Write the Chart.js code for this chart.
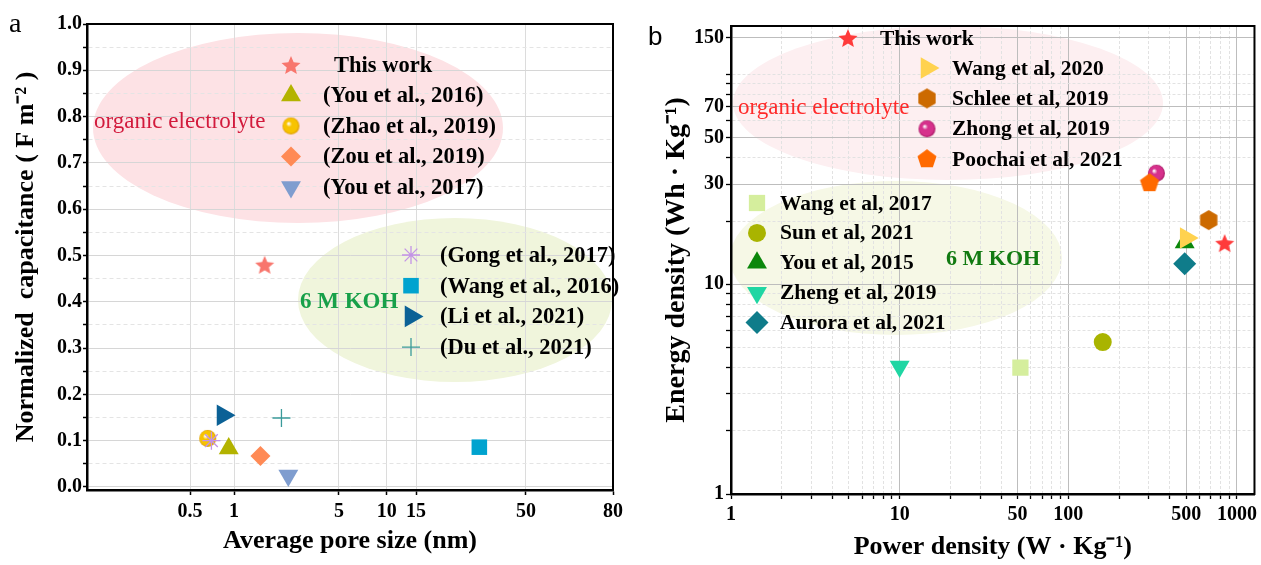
<!DOCTYPE html>
<html>
<head>
<meta charset="utf-8">
<script src="https://cdn.jsdelivr.net/npm/chart.js@4.4.1/dist/chart.umd.min.js"></script>
<style>
  html, body { margin: 0; padding: 0; background: #fff; }
  #wrapA { position: absolute; left: 0; top: 0; width: 630px; height: 565px; }
  #wrapB { position: absolute; left: 630px; top: 0; width: 631px; height: 565px; }
</style>
</head>
<body>
<div id="wrapA"><canvas id="chartA" width="630" height="565"></canvas></div>
<div id="wrapB"><canvas id="chartB" width="631" height="565"></canvas></div>
<script>
// ---- panel a: normalized capacitance vs average pore size ----
const studiesA = ['This work', '(You et al., 2016)', '(Zhao et al., 2019)', '(Zou et al., 2019)',
  '(You et al., 2017)', '(Gong et al., 2017)', '(Wang et al., 2016)', '(Li et al., 2021)', '(Du et al., 2021)'];
const poreSizeA = [1.6, 0.92, 0.66, 1.5, 2.3, 0.7, 30, 0.84, 2.07];
const capacitanceA = [0.48, 0.083, 0.105, 0.067, 0.025, 0.1, 0.086, 0.155, 0.149];
const xTicksA = [0.5, 1, 5, 10, 15, 50, 80];
const yTicksA = [0, 0.1, 0.2, 0.3, 0.4, 0.5, 0.6, 0.7, 0.8, 0.9, 1.0];

// ---- panel b: Ragone plot ----
const studiesB = ['This work', 'Wang et al, 2020', 'Schlee et al, 2019', 'Zhong et al, 2019', 'Poochai et al, 2021',
  'Wang et al, 2017', 'Sun et al, 2021', 'You et al, 2015', 'Zheng et al, 2019', 'Aurora et al, 2021'];
const powerB = [845, 500, 680, 333, 303, 52, 160, 490, 10, 490];
const energyB = [15.7, 16.6, 20.2, 33.8, 30.3, 4.0, 5.3, 15.8, 4.05, 12.5];
const xTicksB = [1, 10, 50, 100, 500, 1000];
const yTicksB = [1, 10, 30, 50, 70, 150];

const SERIF = '"Liberation Serif", "Times New Roman", serif';

// marker images for shapes chart.js has no built-in for
function makeCanvas(size, paint) {
  const c = document.createElement('canvas');
  c.width = size; c.height = size;
  paint(c.getContext('2d'), size / 2);
  return c;
}
function starImg(color, r) {
  return makeCanvas(Math.ceil(2 * r) + 2, (g, c) => {
    g.fillStyle = color;
    g.beginPath();
    for (let i = 0; i < 10; i++) {
      const rr = i % 2 ? r * 0.45 : r;
      const a = -Math.PI / 2 + i * Math.PI / 5;
      g.lineTo(c + rr * Math.cos(a), c + 1 + rr * Math.sin(a));
    }
    g.closePath();
    g.fill();
  });
}
function polygonImg(color, r, n) {
  return makeCanvas(Math.ceil(2 * r) + 2, (g, c) => {
    g.fillStyle = color;
    g.beginPath();
    for (let i = 0; i < n; i++) {
      const a = -Math.PI / 2 + i * 2 * Math.PI / n;
      g.lineTo(c + r * Math.cos(a), c + r * Math.sin(a));
    }
    g.closePath();
    g.fill();
  });
}
function sphereImg(color, edge, r) {
  return makeCanvas(Math.ceil(2 * r) + 2, (g, c) => {
    const grad = g.createRadialGradient(c - r * 0.3, c - r * 0.3, r * 0.05, c, c, r);
    grad.addColorStop(0, '#ffffff');
    grad.addColorStop(0.3, color);
    grad.addColorStop(0.8, color);
    grad.addColorStop(1, edge);
    g.fillStyle = grad;
    g.beginPath();
    g.arc(c, c, r, 0, Math.PI * 2);
    g.fill();
  });
}

const stylesA = [
  { style: starImg('#f8766d', 10), color: '#f8766d', radius: 10 },
  { style: 'triangle', color: '#b3b300', radius: 11.5 },
  { style: sphereImg('#f7c300', '#d99800', 8.5), color: '#f7c300', radius: 8.5 },
  { style: 'rectRot', color: '#ff8a55', radius: 10 },
  { style: 'triangle', rot: 180, color: '#7f9dcf', radius: 11.5 },
  { style: 'star', color: '#c393e6', radius: 9, line: 1.3, order: -1 },
  { style: 'rect', color: '#00a3cf', radius: 11 },
  { style: 'triangle', rot: 90, color: '#0b6196', radius: 12.5 },
  { style: 'cross', color: '#3a9a9a', radius: 9, line: 1.3 }
];
const stylesB = [
  { style: starImg('#ff3b3b', 10), color: '#ff3b3b', radius: 10 },
  { style: 'triangle', rot: 90, color: '#ffd24f', radius: 12.5 },
  { style: polygonImg('#cc6a00', 10, 6), color: '#cc6a00', radius: 10 },
  { style: sphereImg('#d6318c', '#a3145f', 8.5), color: '#d6318c', radius: 8.5 },
  { style: polygonImg('#ff6a00', 10, 5), color: '#ff6a00', radius: 10, order: -1 },
  { style: 'rect', color: '#d5ee9d', radius: 11.5 },
  { style: 'circle', color: '#a9b400', radius: 9 },
  { style: 'triangle', color: '#0b870b', radius: 11.5 },
  { style: 'triangle', rot: 180, color: '#1fd6a3', radius: 11.5 },
  { style: 'rectRot', color: '#0f7c8a', radius: 11.5 }
];

function makeDatasets(labels, xs, ys, styles) {
  return labels.map((label, i) => {
    const s = styles[i];
    return {
      label,
      data: [{ x: xs[i], y: ys[i] }],
      pointStyle: s.style,
      pointRadius: s.radius,
      pointRotation: s.rot || 0,
      pointBackgroundColor: s.color,
      pointBorderColor: s.color,
      pointBorderWidth: s.line || 0,
      order: s.order || 0
    };
  });
}

// the pore-size axis of panel a is log-like but stretched differently per segment
const poreKnots = [0.1, 0.5, 1, 5, 10, 15, 50, 80];
const poreKnotPos = [0, 0.196, 0.2795, 0.479, 0.570, 0.6255, 0.8346, 1];
class PoreScale extends Chart.LogarithmicScale {
  getPixelForValue(value) {
    if (value === null || value === undefined || isNaN(value)) return NaN;
    let i = 0;
    while (i < poreKnots.length - 2 && value > poreKnots[i + 1]) i++;
    const a = Math.log10(poreKnots[i]), b = Math.log10(poreKnots[i + 1]);
    const f = poreKnotPos[i] + (Math.log10(value) - a) / (b - a) * (poreKnotPos[i + 1] - poreKnotPos[i]);
    return this.getPixelForDecimal(f);
  }
  getValueForPixel(pixel) {
    const f = this.getDecimalForPixel(pixel);
    let i = 0;
    while (i < poreKnotPos.length - 2 && f > poreKnotPos[i + 1]) i++;
    const a = Math.log10(poreKnots[i]), b = Math.log10(poreKnots[i + 1]);
    return Math.pow(10, a + (f - poreKnotPos[i]) / (poreKnotPos[i + 1] - poreKnotPos[i]) * (b - a));
  }
}
PoreScale.id = 'poreLog';
Chart.register(PoreScale);

const near = (arr, v) => arr.some(t => Math.abs(t - v) < 1e-9);

// minor grid values
const yGridA = [];
yTicksA.forEach((v, i) => { yGridA.push(v); if (i < yTicksA.length - 1) yGridA.push((v + yTicksA[i + 1]) / 2); });
function logGrid(min, max) {
  const out = [];
  for (let d = 1; d <= 1000; d *= 10) for (let m = 1; m < 10; m++) { const v = m * d; if (v >= min && v <= max) out.push(v); }
  return out;
}
const xGridB = [...new Set(logGrid(1, 1270).concat(xTicksB))].sort((a, b) => a - b);
const yGridB = [...new Set(logGrid(1, 170).concat(yTicksB))].sort((a, b) => a - b);

const tickFont = { family: SERIF, size: 20, weight: 'bold' };
const titleFont = { family: SERIF, size: 26, weight: 'bold' };

function drawMarker(ctx, ds, x, y) {
  ctx.save();
  ctx.fillStyle = ds.pointBackgroundColor;
  ctx.strokeStyle = ds.pointBorderColor;
  ctx.lineWidth = ds.pointBorderWidth;
  Chart.helpers.drawPoint(ctx, {
    pointStyle: ds.pointStyle, radius: ds.pointRadius,
    rotation: ds.pointRotation, borderWidth: ds.pointBorderWidth
  }, x, y);
  ctx.restore();
}
function drawLegend(chart, idxs, mx, y0, step, tx, font) {
  const ctx = chart.ctx;
  idxs.forEach((i, k) => {
    const ds = chart.data.datasets[i];
    const y = y0 + k * step;
    drawMarker(ctx, ds, mx, y);
    ctx.save();
    ctx.font = font;
    ctx.fillStyle = '#000';
    ctx.textBaseline = 'middle';
    ctx.fillText(ds.label, tx, y + 1);
    ctx.restore();
  });
}
function ellipse(ctx, area, cx, cy, rx, ry, color) {
  ctx.save();
  ctx.beginPath();
  ctx.rect(area.left, area.top, area.right - area.left, area.bottom - area.top);
  ctx.clip();
  ctx.fillStyle = color;
  ctx.beginPath();
  ctx.ellipse(cx, cy, rx, ry, 0, 0, Math.PI * 2);
  ctx.fill();
  ctx.restore();
}
function label(ctx, text, x, y, font, color) {
  ctx.save();
  ctx.font = font;
  ctx.fillStyle = color;
  ctx.textBaseline = 'middle';
  ctx.fillText(text, x, y);
  ctx.restore();
}
function frame(chart) {
  const a = chart.chartArea, ctx = chart.ctx;
  ctx.save();
  ctx.strokeStyle = '#000';
  ctx.lineWidth = 2;
  ctx.strokeRect(a.left, a.top, a.right - a.left, a.bottom - a.top);
  ctx.restore();
}

const decorA = {
  id: 'decorA',
  beforeDraw(chart) {
    ellipse(chart.ctx, chart.chartArea, 298, 128, 205, 95, '#fde2e5');
    ellipse(chart.ctx, chart.chartArea, 455, 300, 157, 82, '#f0f5dc');
  },
  beforeDatasetsDraw(chart) {
    label(chart.ctx, 'organic electrolyte', 94, 122, '23px ' + SERIF, '#d21a3c');
    label(chart.ctx, '6 M KOH', 300, 302, 'bold 23px ' + SERIF, '#17a049');
  },
  afterDraw(chart) {
    frame(chart);
    const f = 'bold 22.5px ' + SERIF;
    drawLegend(chart, [0], 291, 65, 30.5, 334, f);
    drawLegend(chart, [1, 2, 3, 4], 291, 95.5, 30.5, 323, f);
    drawLegend(chart, [5, 6, 7, 8], 411, 255, 30.7, 440, f);
    label(chart.ctx, 'a', 9, 25, '28px ' + SERIF, '#000');
  }
};

const decorB = {
  id: 'decorB',
  beforeDraw(chart) {
    ellipse(chart.ctx, chart.chartArea, 318, 103, 215, 77, '#fdeff1');
    ellipse(chart.ctx, chart.chartArea, 266, 258, 166, 77, '#f6f8e6');
  },
  beforeDatasetsDraw(chart) {
    label(chart.ctx, 'organic electrolyte', 108, 108, '23px ' + SERIF, '#ff2a2a');
    label(chart.ctx, '6 M KOH', 316, 259, 'bold 22px ' + SERIF, '#117a11');
  },
  afterDraw(chart) {
    frame(chart);
    const f = 'bold 21.5px ' + SERIF;
    drawLegend(chart, [0], 218, 38, 30, 250, f);
    drawLegend(chart, [1, 2, 3, 4], 297, 68, 30.4, 322, f);
    drawLegend(chart, [5, 6, 7, 8, 9], 127, 203, 29.9, 150, f);
    label(chart.ctx, 'b', 18, 38, '26px "Liberation Sans", Arial, sans-serif', '#000');
  }
};

new Chart(document.getElementById('chartA'), {
  type: 'scatter',
  data: { datasets: makeDatasets(studiesA, poreSizeA, capacitanceA, stylesA) },
  options: {
    responsive: false,
    animation: false,
    events: [],
    layout: { autoPadding: false, padding: { left: 0, top: 24, right: 17, bottom: 0 } },
    plugins: { legend: { display: false }, tooltip: { enabled: false } },
    scales: {
      x: {
        type: 'poreLog', min: 0.1, max: 80, bounds: 'data',
        afterBuildTicks: s => { s.ticks = xTicksA.map(v => ({ value: v })); },
        afterFit: s => { s.height = 75; },
        ticks: { autoSkip: false, maxRotation: 0, font: tickFont, color: '#000', padding: 5, callback: v => String(v) },
        grid: { color: '#dcdcdc', lineWidth: 1, tickColor: '#000', tickLength: 5, tickWidth: 1.5 },
        border: { color: '#000', width: 2.5 },
        title: { display: true, text: 'Average pore size (nm)', font: titleFont, color: '#000', padding: { top: 0, bottom: 8 } }
      },
      y: {
        type: 'linear', min: -0.0065, max: 1.0, bounds: 'data',
        afterBuildTicks: s => { s.ticks = yGridA.map(v => ({ value: v })); },
        afterFit: s => { s.width = 87; },
        ticks: { autoSkip: false, font: tickFont, color: '#000', padding: 1,
          callback: v => near(yTicksA, v) ? v.toFixed(1) : '' },
        grid: {
          color: c => c.tick && near(yTicksA, c.tick.value) ? '#d6d6d6' : '#e4e4e4',
          lineWidth: 1, tickColor: '#000', tickLength: 4, tickWidth: 1.5
        },
        border: { color: '#000', width: 2.5, dash: c => c.tick && !near(yTicksA, c.tick.value) ? [4, 3] : [] },
        title: { display: true, text: 'Normalized  capacitance ( F m\u207B\u00B2 )', font: titleFont, color: '#000', padding: { top: 11, bottom: 0 } }
      }
    }
  },
  plugins: [decorA]
});

new Chart(document.getElementById('chartB'), {
  type: 'scatter',
  data: { datasets: makeDatasets(studiesB, powerB, energyB, stylesB) },
  options: {
    responsive: false,
    animation: false,
    events: [],
    layout: { autoPadding: false, padding: { left: 0, top: 26, right: 1, bottom: 0 } },
    plugins: { legend: { display: false }, tooltip: { enabled: false } },
    scales: {
      x: {
        type: 'logarithmic', min: 1, max: 1270, bounds: 'data',
        afterBuildTicks: s => { s.ticks = xGridB.map(v => ({ value: v })); },
        afterFit: s => { s.height = 71; },
        ticks: { autoSkip: false, maxRotation: 0, font: tickFont, color: '#000', padding: 4,
          callback: v => near(xTicksB, v) ? String(v) : '' },
        grid: {
          color: c => c.tick && near(xTicksB, c.tick.value) ? '#bdbdbd' : '#e2e2e2',
          lineWidth: 1, tickColor: '#000', tickLength: 5, tickWidth: 1.3
        },
        border: { color: '#000', width: 2.5, dash: c => c.tick && !near(xTicksB, c.tick.value) ? [3, 2] : [] },
        title: { display: true, text: 'Power density (W \u00B7 Kg\u207B\u00B9)', font: titleFont, color: '#000', padding: { top: 0, bottom: 2 } }
      },
      y: {
        type: 'logarithmic', min: 1, max: 170, bounds: 'data',
        afterBuildTicks: s => { s.ticks = yGridB.map(v => ({ value: v })); },
        afterFit: s => { s.width = 101; },
        ticks: { autoSkip: false, font: tickFont, color: '#000', padding: 2,
          callback: v => near(yTicksB, v) ? String(v) : '' },
        grid: {
          color: c => c.tick && near(yTicksB, c.tick.value) ? '#bdbdbd' : '#e2e2e2',
          lineWidth: 1, tickColor: '#000', tickLength: 5, tickWidth: 1.3
        },
        border: { color: '#000', width: 2.5, dash: c => c.tick && !near(yTicksB, c.tick.value) ? [3, 2] : [] },
        title: { display: true, text: 'Energy density (Wh \u00B7 Kg\u207B\u00B9)', font: { family: SERIF, size: 28, weight: 'bold' }, color: '#000', padding: { top: 30, bottom: 0 } }
      }
    }
  },
  plugins: [decorB]
});
</script>
</body>
</html>
